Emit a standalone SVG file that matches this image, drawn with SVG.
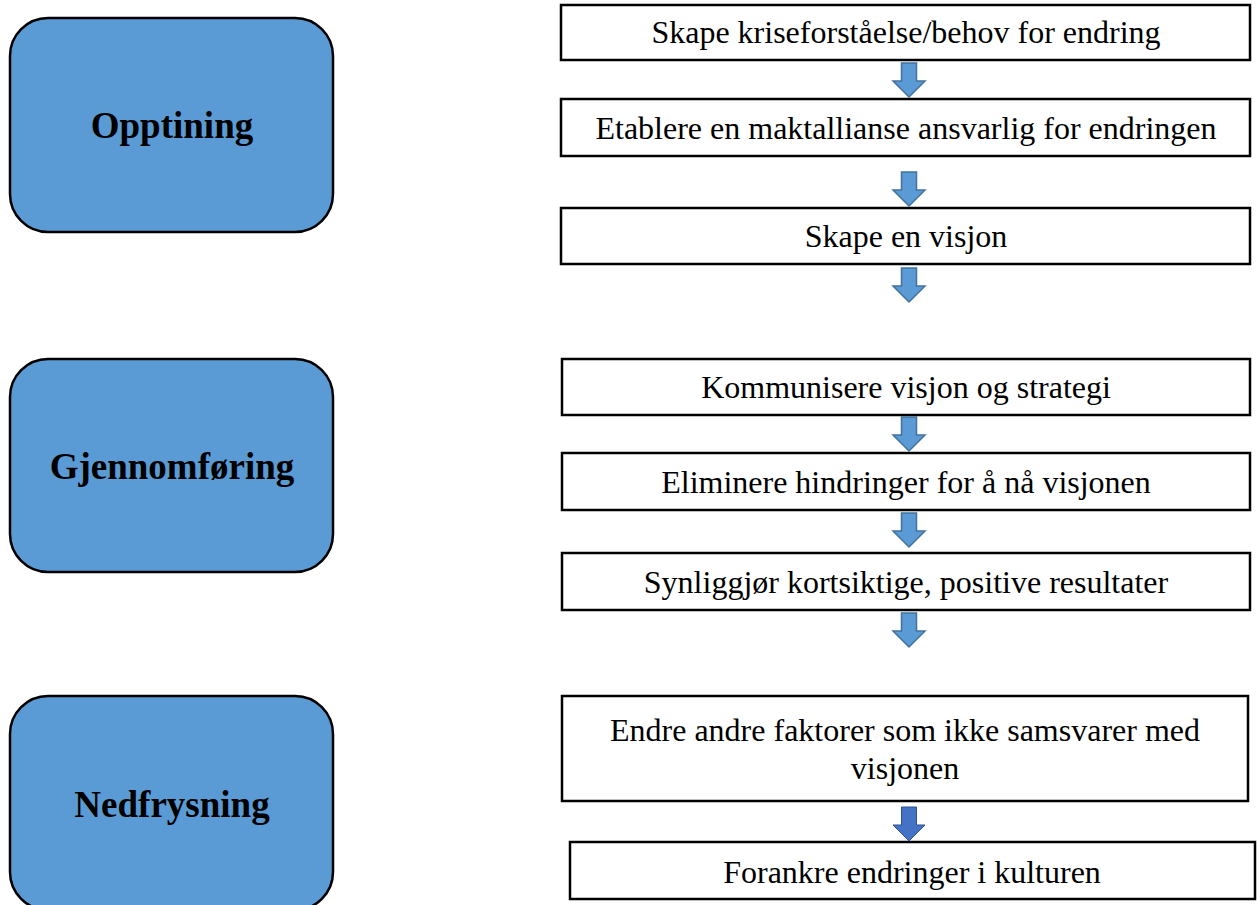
<svg xmlns="http://www.w3.org/2000/svg" width="1257" height="905" viewBox="0 0 1257 905">
<style>
.phase{fill:#5B9BD5;stroke:#000;stroke-width:2.5}
.phase-t{font-family:"Liberation Serif","Times New Roman",serif;font-weight:bold;font-size:37px;fill:#000;text-anchor:middle}
.step{fill:#fff;stroke:#000;stroke-width:2.5}
.step-t{font-family:"Liberation Serif","Times New Roman",serif;font-size:32px;fill:#000;text-anchor:middle}
.arr{fill:#5B9BD5;stroke:#41719C;stroke-width:1.5;stroke-linejoin:miter}
.arr-dark{fill:#4472C4;stroke:#2F528F;stroke-width:1}
</style>
<defs>
<path id="arrow" d="M-7.5,0 H7.5 V18 H16 L0,34 L-16,18 H-7.5 Z"/>
</defs>
<g id="phase-opptining"><rect class="phase" x="10" y="18" width="323" height="214" rx="38" ry="38"/><text class="phase-t" x="172" y="138">Opptining</text></g>
<g id="phase-gjennomforing"><rect class="phase" x="10" y="359" width="323" height="213" rx="38" ry="38"/><text class="phase-t" x="172" y="479">Gjennomføring</text></g>
<g id="phase-nedfrysning"><rect class="phase" x="10" y="696" width="323" height="214" rx="38" ry="38"/><text class="phase-t" x="172" y="817">Nedfrysning</text></g>
<g id="step1"><rect class="step" x="561" y="5" width="689" height="55"/><text class="step-t" x="906" y="43">Skape kriseforståelse/behov for endring</text></g>
<g id="step2"><rect class="step" x="561" y="99" width="689" height="57"/><text class="step-t" x="906" y="139">Etablere en maktallianse ansvarlig for endringen</text></g>
<g id="step3"><rect class="step" x="561" y="208" width="689" height="56"/><text class="step-t" x="906" y="247">Skape en visjon</text></g>
<g id="step4"><rect class="step" x="562" y="359" width="688" height="56"/><text class="step-t" x="906" y="398">Kommunisere visjon og strategi</text></g>
<g id="step5"><rect class="step" x="562" y="453" width="688" height="57"/><text class="step-t" x="906" y="493">Eliminere hindringer for å nå visjonen</text></g>
<g id="step6"><rect class="step" x="562" y="553" width="688" height="57"/><text class="step-t" x="906" y="593">Synliggjør kortsiktige, positive resultater</text></g>
<g id="step7"><rect class="step" x="562" y="696" width="686" height="105"/><text class="step-t" x="905" y="741">Endre andre faktorer som ikke samsvarer med</text><text class="step-t" x="905" y="779">visjonen</text></g>
<g id="step8"><rect class="step" x="570" y="842" width="685" height="57"/><text class="step-t" x="912" y="883">Forankre endringer i kulturen</text></g>
<g id="connectors">
<use href="#arrow" class="arr" x="909" y="63"/>
<use href="#arrow" class="arr" x="909" y="172"/>
<use href="#arrow" class="arr" x="909" y="268"/>
<use href="#arrow" class="arr" x="909" y="417"/>
<use href="#arrow" class="arr" x="909" y="513"/>
<use href="#arrow" class="arr" x="909" y="613"/>
<use href="#arrow" class="arr-dark" x="909" y="807"/>
</g>
</svg>
